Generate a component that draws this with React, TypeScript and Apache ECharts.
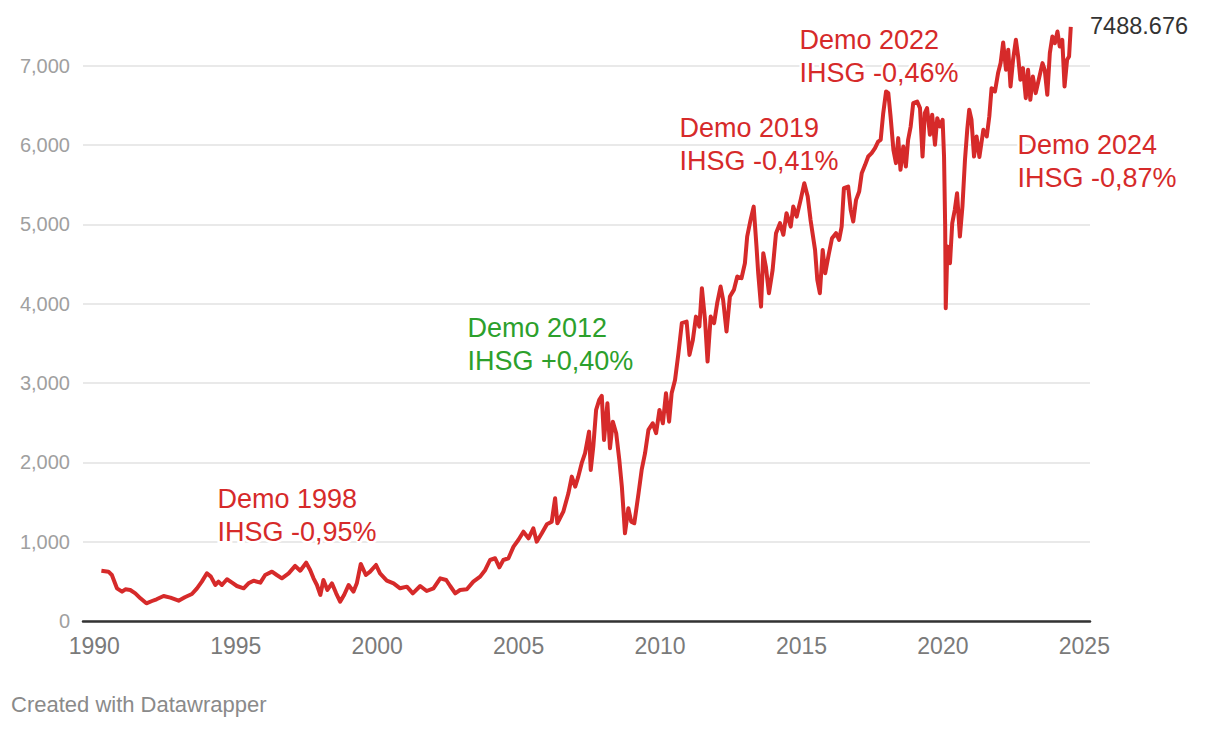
import React, { useEffect, useRef } from "react";
import * as echarts from "echarts";

// Decimal years and IHSG index values
const dates: number[] = [
  1990.25, 1990.5, 1990.62, 1990.8, 1990.98, 1991.1, 1991.27, 1991.45, 1991.63, 1991.84,
  1992.04, 1992.2, 1992.45, 1992.69, 1992.98, 1993.2, 1993.45, 1993.63, 1993.8, 1993.98,
  1994.12, 1994.28, 1994.39, 1994.51, 1994.69, 1994.87, 1995.04, 1995.28, 1995.45, 1995.63,
  1995.87, 1996.04, 1996.28, 1996.45, 1996.63, 1996.87, 1997.1, 1997.28, 1997.49, 1997.63,
  1997.75, 1997.87, 1997.99, 1998.1, 1998.24, 1998.4, 1998.55, 1998.69, 1998.83, 1998.99,
  1999.16, 1999.28, 1999.42, 1999.6, 1999.75, 1999.96, 2000.1, 2000.34, 2000.58, 2000.81,
  2001.05, 2001.26, 2001.52, 2001.75, 2001.99, 2002.23, 2002.44, 2002.58, 2002.76, 2002.93,
  2003.17, 2003.4, 2003.64, 2003.82, 2003.99, 2004.17, 2004.32, 2004.46, 2004.64, 2004.82,
  2004.99, 2005.17, 2005.35, 2005.52, 2005.64, 2005.82, 2006.0, 2006.17, 2006.29, 2006.37,
  2006.58, 2006.76, 2006.88, 2007.0, 2007.11, 2007.23, 2007.35, 2007.49, 2007.55, 2007.64,
  2007.74, 2007.85, 2007.94, 2008.02, 2008.14, 2008.23, 2008.33, 2008.45, 2008.56, 2008.65,
  2008.76, 2008.88, 2008.98, 2009.09, 2009.24, 2009.35, 2009.47, 2009.59, 2009.74, 2009.86,
  2009.98, 2010.1, 2010.21, 2010.32, 2010.41, 2010.53, 2010.65, 2010.77, 2010.94, 2011.04,
  2011.16, 2011.27, 2011.39, 2011.48, 2011.59, 2011.68, 2011.79, 2011.91, 2012.02, 2012.14,
  2012.23, 2012.35, 2012.47, 2012.61, 2012.73, 2012.88, 2013.0, 2013.08, 2013.2, 2013.31,
  2013.41, 2013.47, 2013.57, 2013.65, 2013.74, 2013.85, 2013.98, 2014.1, 2014.24, 2014.36,
  2014.47, 2014.62, 2014.71, 2014.83, 2014.97, 2015.1, 2015.22, 2015.32, 2015.48, 2015.56,
  2015.65, 2015.75, 2015.84, 2015.96, 2016.08, 2016.22, 2016.33, 2016.42, 2016.5, 2016.65,
  2016.74, 2016.83, 2016.93, 2017.04, 2017.13, 2017.25, 2017.36, 2017.48, 2017.6, 2017.71,
  2017.8, 2017.89, 2017.99, 2018.07, 2018.15, 2018.25, 2018.34, 2018.42, 2018.5, 2018.6,
  2018.69, 2018.77, 2018.86, 2018.95, 2019.09, 2019.19, 2019.28, 2019.36, 2019.44, 2019.54,
  2019.62, 2019.72, 2019.8, 2019.89, 2019.99, 2020.04, 2020.08, 2020.1, 2020.16, 2020.25,
  2020.33, 2020.42, 2020.5, 2020.6, 2020.69, 2020.78, 2020.86, 2020.93, 2021.01, 2021.1,
  2021.19, 2021.29, 2021.43, 2021.55, 2021.64, 2021.72, 2021.84, 2021.95, 2022.04, 2022.13,
  2022.23, 2022.31, 2022.39, 2022.48, 2022.58, 2022.66, 2022.74, 2022.83, 2022.93, 2023.01,
  2023.09, 2023.18, 2023.28, 2023.4, 2023.52, 2023.6, 2023.69, 2023.78, 2023.87, 2023.96,
  2024.05, 2024.13, 2024.22, 2024.3, 2024.39, 2024.46, 2024.52,
];

const values: number[] = [
  634, 622, 580, 412, 370, 400, 391, 349, 286, 223,
  252, 274, 315, 294, 256, 299, 340, 412, 496, 601,
  559, 454, 496, 454, 526, 483, 441, 412, 475, 508,
  483, 580, 622, 580, 538, 601, 694, 634, 735, 643,
  538, 454, 328, 517, 391, 475, 349, 244, 328, 454,
  370, 475, 719, 580, 622, 706, 601, 510, 475, 412,
  433, 349, 441, 378, 412, 538, 517, 441, 349, 391,
  400, 496, 559, 643, 769, 791, 677, 769, 791, 937,
  1021, 1126, 1043, 1169, 1000, 1106, 1220, 1252, 1547, 1232,
  1378, 1610, 1820, 1694, 1820, 1989, 2115, 2387, 1904, 2198,
  2661, 2787, 2837, 2282, 2745, 2178, 2513, 2367, 2030, 1694,
  1106, 1421, 1252, 1232, 1610, 1904, 2115, 2409, 2493, 2367,
  2661, 2493, 2871, 2513, 2871, 3039, 3376, 3754, 3774, 3354,
  3543, 3837, 3711, 4195, 3796, 3270, 3837, 3754, 4006, 4216,
  4048, 3648, 4090, 4174, 4342, 4321, 4510, 4846, 5057, 5224,
  4720, 4384, 3963, 4637, 4468, 4132, 4426, 4889, 5015, 4868,
  5141, 4972, 5224, 5098, 5309, 5519, 5351, 5057, 4678, 4300,
  4132, 4678, 4384, 4615, 4826, 4889, 4804, 4972, 5456, 5477,
  5183, 5036, 5309, 5414, 5645, 5750, 5855, 5898, 5961, 6044,
  6066, 6402, 6675, 6654, 6360, 5940, 5772, 6087, 5687, 5981,
  5729, 6066, 6233, 6528, 6549, 6465, 5855, 6402, 6465, 6129,
  6381, 6003, 6339, 6233, 6318, 5855, 4972, 3943, 4720, 4510,
  5015, 5183, 5393, 4846, 5224, 5813, 6192, 6444, 6318, 5855,
  6108, 5850, 6192, 6108, 6360, 6717, 6675, 6907, 7033, 7293,
  6948, 7200, 6738, 7074, 7326, 7116, 6822, 6970, 6591, 6948,
  6570, 6864, 6654, 6843, 7033, 6948, 6633, 7158, 7368, 7284,
  7431, 7242, 7326, 6738, 7074, 7116, 7488.676,
];

const xTicks: number[] = [1990, 1995, 2000, 2005, 2010, 2015, 2020, 2025];
const yTicks: number[] = [0, 1000, 2000, 3000, 4000, 5000, 6000, 7000];

const annotationTitles: string[] = ["Demo 1998", "Demo 2012", "Demo 2019", "Demo 2022", "Demo 2024"];
const annotationChanges: string[] = ["IHSG -0,95%", "IHSG +0,40%", "IHSG -0,41%", "IHSG -0,46%", "IHSG -0,87%"];
const lastValueLabel = "7488.676";
const credit = "Created with Datawrapper";

const RED = "#d62a2a";
const GREEN = "#2ca02c";
const FONT = "'Liberation Sans', Arial, Helvetica, sans-serif";

// layout of annotation text blocks (pixels)
const annotationLayout = [
  { x: 215, y: 498, color: RED },
  { x: 465, y: 327, color: GREEN },
  { x: 677, y: 127, color: RED },
  { x: 797, y: 39, color: RED },
  { x: 1015, y: 144, color: RED },
];

export default function App() {
  const ref = useRef<HTMLDivElement>(null);

  useEffect(() => {
    document.body.style.margin = "0";
    if (!ref.current) return;
    const chart = echarts.init(ref.current, undefined, { renderer: "svg" });

    const seriesData = dates.map((d, i) => [d, values[i]]);

    const graphics: any[] = [];
    annotationLayout.forEach((a, i) => {
      graphics.push({
        type: "text",
        left: a.x,
        top: a.y - 16,
        z: 10,
        style: {
          text: annotationTitles[i] + "\n" + annotationChanges[i],
          fill: a.color,
          font: `27px ${FONT}`,
          lineHeight: 33,
          verticalAlign: "top",
          stroke: "#ffffff",
          lineWidth: 5,
        },
      });
    });
    graphics.push({
      type: "text",
      left: 1090,
      top: 14,
      style: { text: lastValueLabel, fill: "#333333", font: `23.5px ${FONT}` },
    });
    graphics.push({
      type: "text",
      left: 11,
      top: 693,
      style: { text: credit, fill: "#8a8a8a", font: `22px ${FONT}` },
    });

    chart.setOption({
      animation: false,
      backgroundColor: "#ffffff",
      grid: { left: 83, right: 130, top: 65.7, bottom: 109, containLabel: false },
      xAxis: {
        type: "value",
        min: 1989.6,
        max: 2025.2,
        splitLine: { show: false },
        axisTick: { show: false },
        axisLine: { show: true, lineStyle: { color: "#333333", width: 2.5 } },
        axisLabel: {
          customValues: xTicks,
          formatter: (v: number) => String(v),
          color: "#7a7a7a",
          fontSize: 23,
          fontFamily: FONT,
          margin: 13,
        },
      },
      yAxis: {
        type: "value",
        min: 0,
        max: 7000,
        interval: 1000,
        axisLine: { show: false },
        axisTick: { show: false },
        splitLine: { lineStyle: { color: "#e2e2e2", width: 1.5 } },
        axisLabel: {
          formatter: (v: number) => (yTicks.includes(v) ? v.toLocaleString("en-US") : ""),
          color: "#a0a0a0",
          fontSize: 20,
          fontFamily: FONT,
          margin: 13,
        },
      },
      series: [
        {
          type: "line",
          data: seriesData,
          showSymbol: false,
          clip: false,
          lineStyle: { color: RED, width: 4, join: "round" },
          z: 5,
        },
      ],
      graphic: graphics,
    });

    return () => chart.dispose();
  }, []);

  return <div ref={ref} style={{ width: 1220, height: 730 }} />;
}
